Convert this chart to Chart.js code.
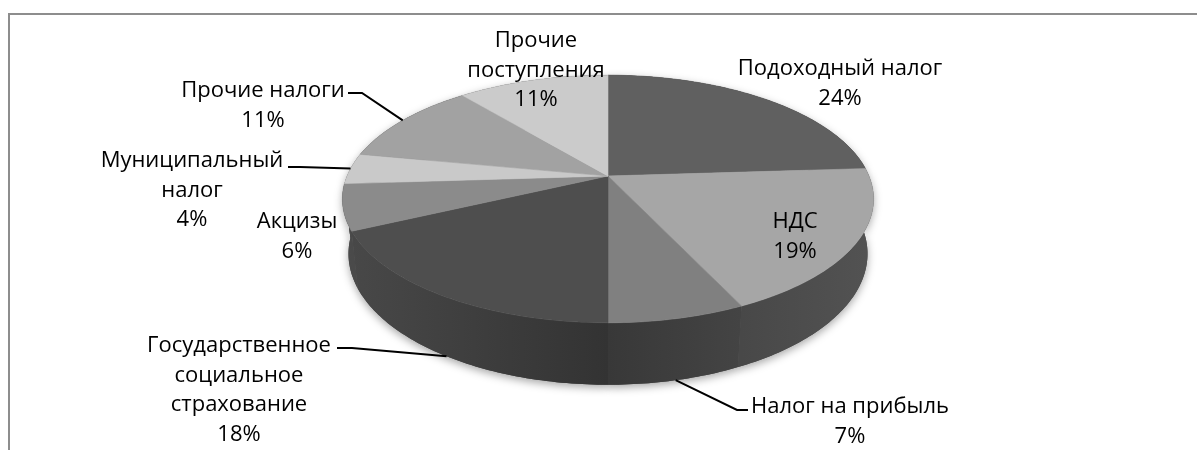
<!DOCTYPE html>
<html lang="ru">
<head>
<meta charset="utf-8">
<title>Структура доходов</title>
<script src="https://cdn.jsdelivr.net/npm/chart.js@4.4.1/dist/chart.umd.min.js"></script>
<style>
  html, body { margin: 0; padding: 0; background: #fff; }
  #wrap { width: 1197px; height: 450px; }
</style>
</head>
<body>
<div id="wrap"><canvas id="revenueChart" width="1197" height="450"></canvas></div>
<script>
// data
const categories = [
    'Подоходный налог',
    'НДС',
    'Налог на прибыль',
    'Государственное социальное страхование',
    'Акцизы',
    'Муниципальный налог',
    'Прочие налоги',
    'Прочие поступления'
];
const shares = [24, 19, 7, 18, 6, 4, 11, 11];

// styles
const topColors = ['#606060', '#a6a6a6', '#808080', '#4e4e4e', '#8b8b8b', '#c9c9c9', '#a2a2a2', '#cbcbcb'];
const wallColors = [
    ['#4e4e4e', '#4e4e4e'],
    ['#525252', '#484848'],
    ['#444444', '#383838'],
    ['#333333', '#484848'],
    ['#4a4a4a', '#4c4c4c'],
    ['#4c4c4c', '#4c4c4c'],
    ['#4c4c4c', '#4c4c4c'],
    ['#4c4c4c', '#4c4c4c']
];

// label layout: centre x, first baseline, wrap width
const labelPos = [[840, 75], [795, 228], [850, 413], [239, 352], [297, 228], [192, 167], [263, 97], [536, 47]];
const labelWrap = [300, 300, 300, 200, 300, 190, 300, 140];
const leaders = [
    null, null,
    [[748, 410], [737, 410]],
    [[337, 348], [352, 348]],
    null,
    [[288, 167], [300, 167]],
    [[348, 93], [362, 93]],
    null
];

const FONT = '22px "Open Sans"';
const LINE_H = 29.5;

// 3d projection settings
const SIN_T = 0.458, COS_T = Math.sqrt(1 - SIN_T * SIN_T);
const PERSP = 0.2087;   // radius / camera distance
const DEPTH = 0.238;    // thickness / radius

function project(arc, ang, level) {
    const th = ang + Math.PI / 2;
    const X = Math.sin(th), Z = Math.cos(th), Y = -level * DEPTH;
    const q = 1 + PERSP * (Z * COS_T - Y * SIN_T);
    const r = arc.outerRadius;
    return { x: arc.x + r * X / q, y: arc.y + r * (-Z * SIN_T - Y * COS_T) / q };
}

function rimPath(ctx, arc, a1, a2, level, first) {
    const n = Math.max(8, Math.ceil(Math.abs(a2 - a1) * 60));
    for (let i = 0; i <= n; i++) {
        const p = project(arc, a1 + (a2 - a1) * i / n, level);
        if (i === 0 && first) ctx.moveTo(p.x, p.y);
        else ctx.lineTo(p.x, p.y);
    }
}

function wallPath(ctx, arc) {
    ctx.beginPath();
    rimPath(ctx, arc, arc.startAngle, arc.endAngle, 0, true);
    rimPath(ctx, arc, arc.endAngle, arc.startAngle, 1, false);
    ctx.closePath();
}

function topPath(ctx, arc) {
    ctx.beginPath();
    ctx.moveTo(arc.x, arc.y);
    rimPath(ctx, arc, arc.startAngle, arc.endAngle, 0, false);
    ctx.closePath();
}

function wrapText(ctx, text, maxW) {
    const words = text.split(' ');
    const lines = [];
    let cur = '';
    words.forEach(w => {
        const test = cur ? cur + ' ' + w : w;
        if (cur && ctx.measureText(test).width > maxW) {
            lines.push(cur);
            cur = w;
        } else {
            cur = test;
        }
    });
    if (cur) lines.push(cur);
    return lines;
}

const pie3d = {
    id: 'pie3d',
    beforeDraw(chart) {
        const ctx = chart.ctx;
        // chart frame (only top and left edges are in view)
        ctx.save();
        ctx.strokeStyle = '#8d8d8d';
        ctx.lineWidth = 2;
        ctx.beginPath();
        ctx.moveTo(9, 450);
        ctx.lineTo(9, 14);
        ctx.lineTo(1197, 14);
        ctx.stroke();
        ctx.restore();
    },
    beforeDatasetsDraw(chart) {
        const ctx = chart.ctx;
        const arcs = chart.getDatasetMeta(0).data;

        // far walls first
        const order = arcs.map((a, i) => i).sort((i, j) => {
            const mi = (arcs[i].startAngle + arcs[i].endAngle) / 2 + Math.PI / 2;
            const mj = (arcs[j].startAngle + arcs[j].endAngle) / 2 + Math.PI / 2;
            return Math.cos(mj) - Math.cos(mi);
        });

        ctx.save();
        // soft shadow under the body
        ctx.shadowColor = 'rgba(0,0,0,0.35)';
        ctx.shadowBlur = 9;
        ctx.shadowOffsetY = 3;
        ctx.fillStyle = '#444';
        order.forEach(i => { wallPath(ctx, arcs[i]); ctx.fill(); });
        ctx.restore();

        ctx.save();
        order.forEach(i => {
            const arc = arcs[i];
            const p1 = project(arc, arc.startAngle, 0);
            const p2 = project(arc, arc.endAngle, 0);
            let g = wallColors[i][0];
            if (Math.abs(p2.x - p1.x) > 1) {
                g = ctx.createLinearGradient(p1.x, 0, p2.x, 0);
                g.addColorStop(0, wallColors[i][0]);
                g.addColorStop(1, wallColors[i][1]);
            }
            wallPath(ctx, arc);
            ctx.fillStyle = g;
            ctx.fill();
        });

        arcs.forEach((arc, i) => {
            topPath(ctx, arc);
            ctx.fillStyle = topColors[i];
            ctx.fill();
            ctx.strokeStyle = topColors[i];
            ctx.lineWidth = 0.6;
            ctx.stroke();
        });
        ctx.restore();

        // labels
        const total = shares.reduce((s, v) => s + v, 0);
        ctx.save();
        ctx.font = FONT;
        ctx.fillStyle = '#000';
        ctx.textAlign = 'center';
        ctx.textBaseline = 'alphabetic';
        chart.data.labels.forEach((name, i) => {
            const lines = wrapText(ctx, name, labelWrap[i]);
            lines.push(Math.round(shares[i] / total * 100) + '%');
            const [lx, ly] = labelPos[i];
            lines.forEach((t, k) => ctx.fillText(t, lx, ly + k * LINE_H));
        });

        ctx.strokeStyle = '#000';
        ctx.lineWidth = 2;
        arcs.forEach((arc, i) => {
            if (!leaders[i]) return;
            const mid = (arc.startAngle + arc.endAngle) / 2;
            const front = Math.cos(mid + Math.PI / 2) < -0.2;
            const tip = project(arc, mid, front ? 1 : 0);
            ctx.beginPath();
            ctx.moveTo(leaders[i][0][0], leaders[i][0][1]);
            ctx.lineTo(leaders[i][1][0], leaders[i][1][1]);
            ctx.lineTo(tip.x, tip.y);
            ctx.stroke();
        });
        ctx.restore();
        return false;
    }
};

new Chart(document.getElementById('revenueChart').getContext('2d'), {
    type: 'pie',
    data: {
        labels: categories,
        datasets: [{
            data: shares,
            backgroundColor: topColors,
            borderWidth: 0,
            radius: 261
        }]
    },
    options: {
        responsive: false,
        animation: false,
        layout: { padding: { left: 19, right: 0, top: 0, bottom: 98 } },
        plugins: {
            legend: { display: false },
            tooltip: { enabled: false }
        }
    },
    plugins: [pie3d]
});
</script>
</body>
</html>
